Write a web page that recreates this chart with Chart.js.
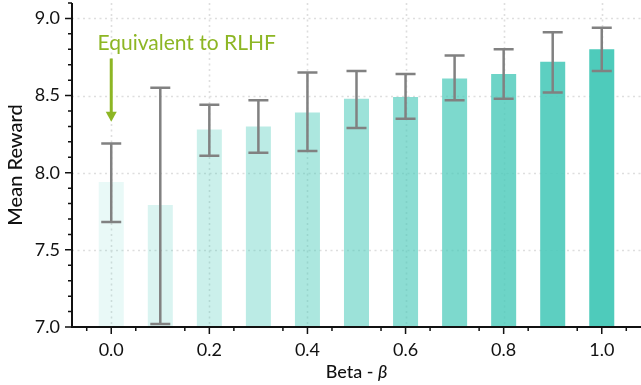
<!DOCTYPE html>
<html>
<head>
<meta charset="utf-8">
<script src="https://cdn.jsdelivr.net/npm/chart.js@4"></script>
<style>
html,body{margin:0;padding:0;background:#fff;}
#wrap{width:641px;height:385px;}
</style>
</head>
<body>
<div id="wrap"><canvas id="c" width="641" height="385"></canvas></div>
<script>
// ---- data ----
const betas = [0.0, 0.1, 0.2, 0.3, 0.4, 0.5, 0.6, 0.7, 0.8, 0.9, 1.0];
const meanReward = [7.94, 7.79, 8.28, 8.30, 8.39, 8.48, 8.49, 8.61, 8.64, 8.72, 8.80];
const errLow  = [7.68, 7.02, 8.11, 8.13, 8.14, 8.29, 8.35, 8.47, 8.48, 8.52, 8.66];
const errHigh = [8.19, 8.55, 8.44, 8.47, 8.65, 8.66, 8.64, 8.76, 8.80, 8.91, 8.94];
const xTickValues = [0.0, 0.2, 0.4, 0.6, 0.8, 1.0];
const yTickValues = [7.0, 7.5, 8.0, 8.5, 9.0];
const annotationText = "Equivalent to RLHF";
const annotationTextPos = {x: -0.028, y: 8.795};
const annotationArrow = {x: 0.0, yFrom: 8.74, yTo: 8.33};

// ---- styles ----
const FONT = "Lato, 'Noto Sans', sans-serif";
const barAlphas = betas.map((b, i) => 0.12 + 0.088 * i);
const barColors = barAlphas.map(a => `rgba(78,203,187,${a.toFixed(3)})`);
const green = '#8db624';

const customDraw = {
  id: 'customDraw',
  beforeDatasetsDraw(chart) {
    const ctx = chart.ctx, xs = chart.scales.x, ys = chart.scales.y, a = chart.chartArea;
    ctx.save();
    ctx.strokeStyle = '#dedede';
    ctx.lineWidth = 1.6;
    ctx.setLineDash([2, 3.5]);
    xTickValues.forEach(v => {
      const x = Math.round(xs.getPixelForValue(v)) + 0.5;
      ctx.beginPath(); ctx.moveTo(x, a.top); ctx.lineTo(x, a.bottom); ctx.stroke();
    });
    yTickValues.slice(1).forEach(v => {
      const y = Math.round(ys.getPixelForValue(v)) + 0.5;
      ctx.beginPath(); ctx.moveTo(a.left, y); ctx.lineTo(a.right, y); ctx.stroke();
    });
    ctx.restore();
  },
  afterDatasetsDraw(chart) {
    const ctx = chart.ctx, xs = chart.scales.x, ys = chart.scales.y, a = chart.chartArea;
    ctx.save();
    // error bars
    ctx.strokeStyle = '#818181';
    ctx.lineWidth = 2.5;
    betas.forEach((b, i) => {
      const x = xs.getPixelForValue(b);
      const y1 = ys.getPixelForValue(errLow[i]);
      const y2 = ys.getPixelForValue(errHigh[i]);
      ctx.beginPath();
      ctx.moveTo(x, y1); ctx.lineTo(x, y2);
      ctx.moveTo(x - 10, y1); ctx.lineTo(x + 10, y1);
      ctx.moveTo(x - 10, y2); ctx.lineTo(x + 10, y2);
      ctx.stroke();
    });
    // axes lines
    ctx.strokeStyle = '#111';
    ctx.lineWidth = 2;
    ctx.beginPath();
    ctx.moveTo(a.left, a.top); ctx.lineTo(a.left, a.bottom); ctx.lineTo(a.right, a.bottom);
    ctx.stroke();
    // ticks
    ctx.lineWidth = 1.5;
    ctx.beginPath();
    for (let k = 70; k <= 91; k++) {
      const v = k / 10;
      const y = ys.getPixelForValue(v);
      if (y < a.top - 0.5) continue;
      const len = (k % 5 === 0) ? 7 : 4;
      ctx.moveTo(a.left, y); ctx.lineTo(a.left - len, y);
    }
    for (let k = -1; k <= 10; k++) {
      const v = k * 0.1 + 0.05;
      const x = xs.getPixelForValue(v);
      ctx.moveTo(x, a.bottom); ctx.lineTo(x, a.bottom + 4);
    }
    xTickValues.forEach(v => {
      const x = xs.getPixelForValue(v);
      ctx.moveTo(x, a.bottom); ctx.lineTo(x, a.bottom + 7);
    });
    ctx.stroke();
    // annotation
    ctx.fillStyle = green;
    ctx.font = `21px ${FONT}`;
    ctx.textBaseline = 'alphabetic';
    ctx.textAlign = 'left';
    ctx.fillText(annotationText, xs.getPixelForValue(annotationTextPos.x), ys.getPixelForValue(annotationTextPos.y));
    const ax = xs.getPixelForValue(annotationArrow.x);
    const ay1 = ys.getPixelForValue(annotationArrow.yFrom);
    const ay2 = ys.getPixelForValue(annotationArrow.yTo);
    ctx.strokeStyle = green;
    ctx.lineWidth = 3;
    ctx.setLineDash([]);
    ctx.beginPath(); ctx.moveTo(ax, ay1); ctx.lineTo(ax, ay2 - 8); ctx.stroke();
    ctx.beginPath();
    ctx.moveTo(ax - 5.5, ay2 - 10); ctx.lineTo(ax + 5.5, ay2 - 10); ctx.lineTo(ax, ay2); ctx.closePath();
    ctx.fill();
    // x title
    ctx.fillStyle = '#111';
    ctx.textBaseline = 'middle';
    const f1 = `500 18px ${FONT}`, f2 = `italic 500 18px ${FONT}`;
    const t1 = 'Beta - ', t2 = 'β';
    ctx.font = f1; const w1 = ctx.measureText(t1).width;
    ctx.font = f2; const w2 = ctx.measureText(t2).width;
    const cx = (a.left + a.right) / 2;
    let sx = cx - (w1 + w2) / 2;
    ctx.font = f1; ctx.fillText(t1, sx, 372);
    ctx.font = f2; ctx.fillText(t2, sx + w1, 372);
    ctx.restore();
  }
};

new Chart(document.getElementById('c'), {
  type: 'bar',
  data: {
    datasets: [{
      data: betas.map((b, i) => ({x: b, y: meanReward[i]})),
      backgroundColor: barColors,
      borderWidth: 0,
      barPercentage: 0.51,
      categoryPercentage: 1.0
    }]
  },
  options: {
    responsive: false,
    animation: false,
    layout: {padding: {top: 3, right: 0, left: 0, bottom: 0}},
    plugins: {legend: {display: false}, tooltip: {enabled: false}},
    scales: {
      x: {
        type: 'linear',
        offset: false,
        min: -0.08, max: 1.08,
        afterBuildTicks: s => { s.ticks = xTickValues.map(v => ({value: v})); },
        afterFit: s => { s.height = 58; s.paddingLeft = 0; s.paddingRight = 0; },
        grid: {display: false, drawTicks: false, offset: false},
        border: {display: false},
        ticks: {
          color: '#111', padding: 12, maxRotation: 0,
          font: {family: FONT, size: 18},
          callback: v => Number(v).toFixed(1)
        }
      },
      y: {
        min: 7.0, max: 9.1,
        afterBuildTicks: s => { s.ticks = yTickValues.map(v => ({value: v})); },
        afterFit: s => { s.width = 72; s.paddingTop = 0; s.paddingBottom = 0; },
        grid: {display: false, drawTicks: false},
        border: {display: false},
        ticks: {
          color: '#111', padding: 12,
          font: {family: FONT, size: 18},
          callback: v => Number(v).toFixed(1)
        },
        title: {
          display: true, text: 'Mean Reward', color: '#111',
          font: {family: FONT, size: 20, weight: '500'},
          padding: {top: 4, bottom: 0}
        }
      }
    }
  },
  plugins: [customDraw]
});
</script>
</body>
</html>
